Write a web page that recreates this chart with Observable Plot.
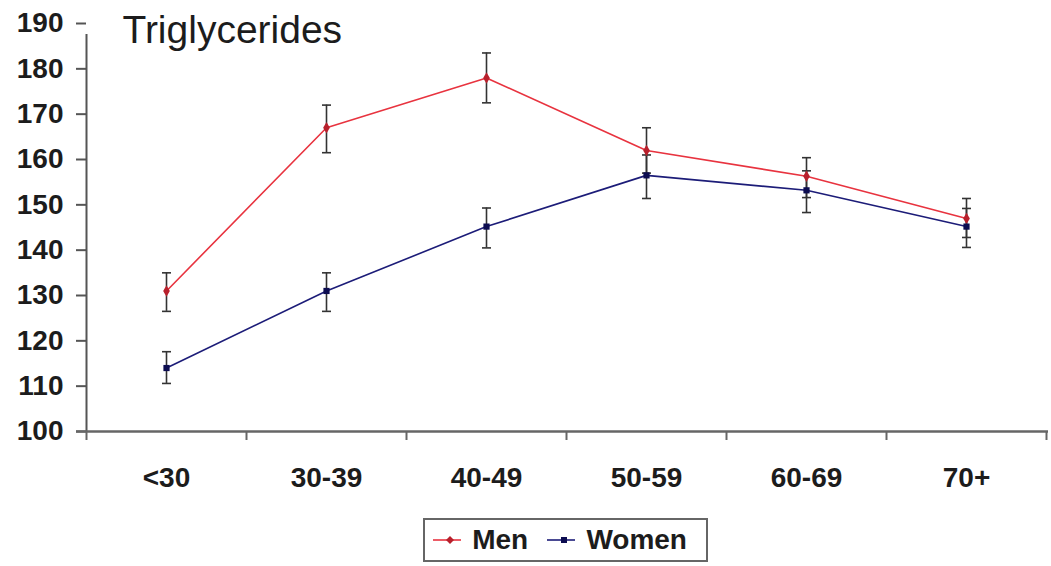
<!DOCTYPE html>
<html>
<head>
<meta charset="utf-8">
<script src="https://cdn.jsdelivr.net/npm/d3@7"></script>
<script src="https://cdn.jsdelivr.net/npm/@observablehq/plot@0.6"></script>
<style>
  html, body { margin: 0; padding: 0; background: #fff; }
  #chart { width: 1051px; }
  .legend {
    box-sizing: border-box; width: 285px; height: 44px; margin: 6px 0 0 423px;
    border: 2px solid #666; display: flex; align-items: center; padding-left: 8px;
    font-family: "Liberation Sans", Arial, sans-serif; font-weight: bold; font-size: 28px; color: #1c1c1c;
  }
  .legend svg { margin-right: 11px; }
  .legend span { margin-right: 19px; }
</style>
</head>
<body>
<div id="chart"></div>
<script>
const categories = ["<30", "30-39", "40-49", "50-59", "60-69", "70+"];
const menMean   = [131, 167, 178, 162, 156.3, 147];
const menLow    = [126.5, 161.5, 172.5, 157, 151.6, 142.8];
const menHigh   = [135, 172, 183.5, 167, 160.4, 151.4];
const womenMean = [114, 131, 145.2, 156.5, 153.2, 145.2];
const womenLow  = [110.6, 126.5, 140.5, 151.4, 148.3, 140.6];
const womenHigh = [117.6, 135, 149.3, 161, 157.5, 149.2];
const yTicks = [100, 110, 120, 130, 140, 150, 160, 170, 180, 190];
const series = ["Men", "Women"];
const colors = ["#e8333f", "#1c1c78"];
const dotColors = ["#b8202c", "#0c0c50"];

const rows = [];
categories.forEach((c, i) => {
  rows.push({i, sex: "Men", mean: menMean[i], low: menLow[i], high: menHigh[i]});
  rows.push({i, sex: "Women", mean: womenMean[i], low: womenLow[i], high: womenHigh[i]});
});
const boundaries = d3.range(categories.length + 1).map(k => k - 0.5);
const centers = d3.range(categories.length);
const capSymbol = { draw(ctx) { ctx.moveTo(-4.5, 0); ctx.lineTo(4.5, 0); } };
const font = '"Liberation Sans", Arial, sans-serif';

const chart = Plot.plot({
  width: 1051,
  height: 512,
  marginLeft: 86,
  marginRight: 5,
  marginTop: 23,
  marginBottom: 81,
  style: { fontFamily: font, color: "#1c1c1c", background: "#fff" },
  x: { type: "linear", domain: [-0.5, categories.length - 0.5] },
  y: { domain: [100, 190] },
  color: { domain: series, range: colors },
  marks: [
    Plot.axisY({ ticks: yTicks, tickSize: 10, tickPadding: 13, fontSize: 28, fontWeight: "bold",
                 stroke: "#555", strokeWidth: 2, fill: "#1c1c1c", label: null }),
    Plot.axisX({ ticks: boundaries, tickSize: 9, tickFormat: () => "", stroke: "#666", strokeWidth: 2, label: null }),
    Plot.axisX({ ticks: centers, tickSize: 0, tickPadding: 36, tickFormat: k => categories[k],
                 fontSize: 28, fontWeight: "bold", fill: "#1c1c1c", label: null }),
    Plot.ruleX([-0.5], { y1: 100, y2: 190, stroke: "#555", strokeWidth: 2, insetBottom: -11 }),
    Plot.ruleY([100], { stroke: "#666", strokeWidth: 2.5, insetLeft: -10, insetRight: -2 }),
    Plot.text(["Triglycerides"], { frameAnchor: "top-left", dx: 36, dy: 7.5, lineAnchor: "middle",
                 textAnchor: "start", fontSize: 39, fontFamily: font, fill: "#1c1c1c" }),
    Plot.line(rows, { x: "i", y: "mean", z: "sex", stroke: "sex", strokeWidth: 1.6 }),
    Plot.ruleX(rows, { x: "i", y1: "low", y2: "high", stroke: "#333", strokeWidth: 1.6 }),
    Plot.dot(rows, { x: "i", y: "low", symbol: capSymbol, stroke: "#333", strokeWidth: 1.6 }),
    Plot.dot(rows, { x: "i", y: "high", symbol: capSymbol, stroke: "#333", strokeWidth: 1.6 }),
    Plot.dot(rows.filter(d => d.sex === "Men"), { x: "i", y: "mean", symbol: "diamond", r: 3.5, fill: dotColors[0] }),
    Plot.dot(rows.filter(d => d.sex === "Women"), { x: "i", y: "mean", symbol: "square", r: 3.5, fill: dotColors[1] })
  ]
});
document.getElementById("chart").appendChild(chart);

const legend = document.createElement("div");
legend.className = "legend";
series.forEach((s, k) => {
  const sw = d3.create("svg").attr("width", 30).attr("height", 12);
  sw.append("line").attr("x1", 0).attr("x2", 30).attr("y1", 6).attr("y2", 6)
    .attr("stroke", colors[k]).attr("stroke-width", 1.6);
  if (k === 0) sw.append("path").attr("d", "M17,2L21,6L17,10L13,6Z").attr("fill", dotColors[k]);
  else sw.append("rect").attr("x", 14).attr("y", 3).attr("width", 6).attr("height", 6).attr("fill", dotColors[k]);
  legend.appendChild(sw.node());
  const t = document.createElement("span");
  t.textContent = s;
  legend.appendChild(t);
});
document.getElementById("chart").appendChild(legend);
</script>
</body>
</html>
